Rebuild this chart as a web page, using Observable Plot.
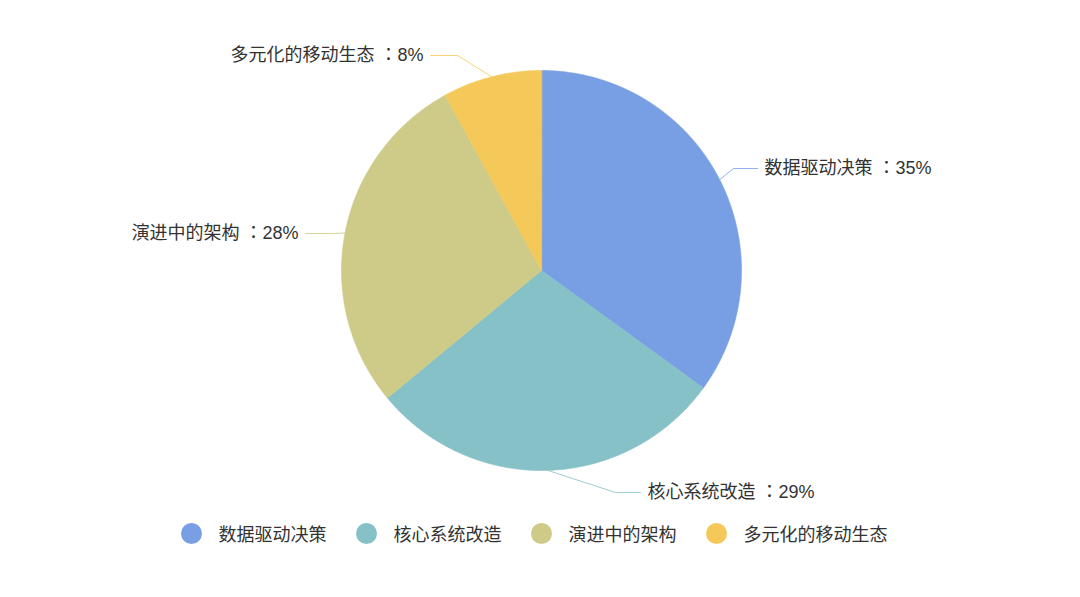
<!DOCTYPE html>
<html>
<head>
<meta charset="utf-8">
<script src="https://cdn.jsdelivr.net/npm/d3@7"></script>
<script src="https://cdn.jsdelivr.net/npm/@observablehq/plot@0.6"></script>
<style>
  html, body { margin: 0; padding: 0; background: #fff; }
  body { width: 1080px; height: 597px; overflow: hidden; font-family: "Liberation Sans", "Noto Sans CJK SC", sans-serif; }
  #legend { display: flex; justify-content: center; align-items: center; gap: 29px; margin-top: 10px; transform: translateX(-6px); font-size: 18px; color: #333; }
  .item { display: flex; align-items: center; }
  .sw { width: 21px; height: 21px; border-radius: 50%; margin-right: 17px; }
</style>
</head>
<body>
<div id="chart"></div>
<div id="legend"></div>
<script>
// Data
const categories = ["数据驱动决策", "核心系统改造", "演进中的架构", "多元化的移动生态"];
const percents = [35, 29, 28, 8];
const colors = ["#789fe3", "#85c1c6", "#cdcb87", "#f5c85a"];

// Label leader layout (elbow and end of each leader line, in pie-radius units)
const leaderElbow = [[0.96, 0.51], [0.37, -1.11], [-1.04, 0.185], [-0.42, 1.075]];
const leaderEnd = [[1.08, 0.51], [0.495, -1.11], [-1.18, 0.185], [-0.555, 1.075]];

const pie = d3.pie().sort(null).startAngle(0).endAngle(2 * Math.PI)(percents);

// polygon points for each slice
const slicePts = [];
pie.forEach((s, i) => {
  const cat = categories[i];
  slicePts.push({cat, x: 0, y: 0});
  const n = Math.max(2, Math.ceil((s.endAngle - s.startAngle) / (Math.PI / 360)));
  for (let k = 0; k <= n; k++) {
    const a = s.startAngle + (s.endAngle - s.startAngle) * k / n;
    slicePts.push({cat, x: Math.sin(a), y: Math.cos(a)});
  }
});

const leaderPts = [];
const labels = [];
pie.forEach((s, i) => {
  const cat = categories[i];
  const m = (s.startAngle + s.endAngle) / 2;
  leaderPts.push({cat, x: Math.sin(m), y: Math.cos(m)});
  leaderPts.push({cat, x: leaderElbow[i][0], y: leaderElbow[i][1]});
  leaderPts.push({cat, x: leaderEnd[i][0], y: leaderEnd[i][1]});
  labels.push({cat, x: leaderEnd[i][0], y: leaderEnd[i][1], right: leaderEnd[i][0] > 0,
               text: `${cat} ：${percents[i]}%`});
});

const labelFont = '"Liberation Sans", "Noto Sans CJK JP", "Noto Sans CJK SC", sans-serif';

const chart = Plot.plot({
  width: 1080,
  height: 510,
  margin: 0,
  style: {fontFamily: '"Liberation Sans", "Noto Sans CJK SC", sans-serif', background: "#fff"},
  x: {domain: [-1, 1], range: [341, 741], axis: null},
  y: {domain: [-1, 1], range: [470, 70], axis: null},
  color: {domain: categories, range: colors},
  marks: [
    Plot.line(slicePts, {x: "x", y: "y", z: "cat", fill: "cat", stroke: "cat", strokeWidth: 0.6, curve: "linear-closed"}),
    Plot.line(leaderPts, {x: "x", y: "y", z: "cat", stroke: "cat", strokeWidth: 1, strokeOpacity: 0.8}),
    Plot.text(labels.filter(d => d.right), {x: "x", y: "y", text: "text", textAnchor: "start", dx: 7, fontSize: 18, fill: "#333", fontFamily: labelFont}),
    Plot.text(labels.filter(d => !d.right), {x: "x", y: "y", text: "text", textAnchor: "end", dx: -7, fontSize: 18, fill: "#333", fontFamily: labelFont})
  ]
});
document.getElementById("chart").appendChild(chart);

const legend = document.getElementById("legend");
categories.forEach((c, i) => {
  const item = document.createElement("div");
  item.className = "item";
  const sw = document.createElement("span");
  sw.className = "sw";
  sw.style.background = colors[i];
  const t = document.createElement("span");
  t.textContent = c;
  item.appendChild(sw);
  item.appendChild(t);
  legend.appendChild(item);
});
</script>
</body>
</html>
